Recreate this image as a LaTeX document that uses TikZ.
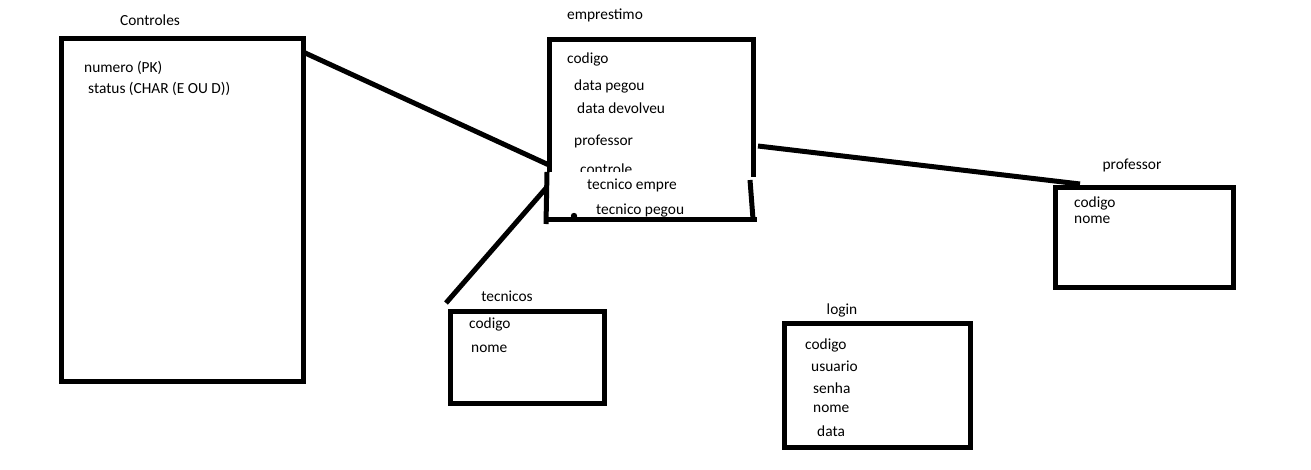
\documentclass[tikz,border=0pt]{standalone}
\usepackage{fontspec}
\setmainfont{Carlito}
\begin{document}
\begin{tikzpicture}[x=1pt,y=-1pt,
  box/.style={draw=black,line width=5pt,inner sep=0pt,minimum width=#1},
  lbl/.style={font=\fontsize{15.4}{18}\selectfont,text=black,inner sep=0pt,anchor=west},
  ttl/.style={font=\fontsize{15.4}{18}\selectfont,text=black,inner sep=0pt},
  link/.style={draw=black,line width=5pt},
  edge/.style={draw=black,line width=5pt}]
\useasboundingbox[fill=white] (0,0) rectangle (1311,469);

% Controles
\node[box=242pt,minimum height=343pt] (controles) at (182,209.5) {};
\node[ttl] (tcontroles) at (150,20) {Controles};
\node[lbl] (c1) at (84,68) {numero (PK)};
\node[lbl] (c2) at (88,89) {status (CHAR (E OU D))};

% emprestimo (hand drawn box)
\node[ttl] (temp) at (605,15) {emprestimo};
\draw[edge,line join=miter] (549,172) -- (549,39) -- (753,39) -- (753,177);
\draw[edge] (547,172) -- (546,224);
\draw[edge] (750,180) -- (753,219);
\draw[edge] (546,219) -- (757,219);
\fill[black] (574,216) circle (3.2);
\node[lbl] (e1) at (567,59) {codigo};
\node[lbl] (e2) at (574,86) {data pegou};
\node[lbl] (e3) at (577,108) {data devolveu};
\node[lbl] (e4) at (574,141) {professor};
\node[lbl,anchor=base west] (e5) at (580,174) {controle};
\fill[white] (576,171.5) rectangle (690,180);
\node[lbl] (e6) at (587,185) {tecnico empre};
\node[lbl] (e7) at (596,211) {tecnico pegou};

% professor
\node[box=178pt,minimum height=100pt] (professor) at (1144,237) {};
\node[ttl] (tprof) at (1132,165) {professor};
\node[lbl] (p1) at (1074,203) {codigo};
\node[lbl] (p2) at (1074,220) {nome};

% tecnicos
\node[box=154pt,minimum height=92pt] (tecnicos) at (527,357) {};
\node[ttl] (ttec) at (507,296) {tecnicos};
\node[lbl] (t1) at (469,324) {codigo};
\node[lbl] (t2) at (471,349) {nome};

% login
\node[box=186pt,minimum height=124pt] (login) at (877,385) {};
\node[ttl] (tlogin) at (842,310) {login};
\node[lbl] (l1) at (805,345) {codigo};
\node[lbl] (l2) at (811,366) {usuario};
\node[lbl] (l3) at (813,388) {senha};
\node[lbl] (l4) at (813,409) {nome};
\node[lbl] (l5) at (817,431) {data};

% connector end points
\coordinate (a1) at (303,52);
\coordinate (a2) at (549,165);
\coordinate (b1) at (446,303);
\coordinate (b2) at (547,187);
\coordinate (d1) at (758,146);
\coordinate (d2) at (1080,184);
\draw[link] (a1) -- (a2);
\draw[link] (b1) -- (b2);
\draw[link] (d1) -- (d2);
\end{tikzpicture}
\end{document}
